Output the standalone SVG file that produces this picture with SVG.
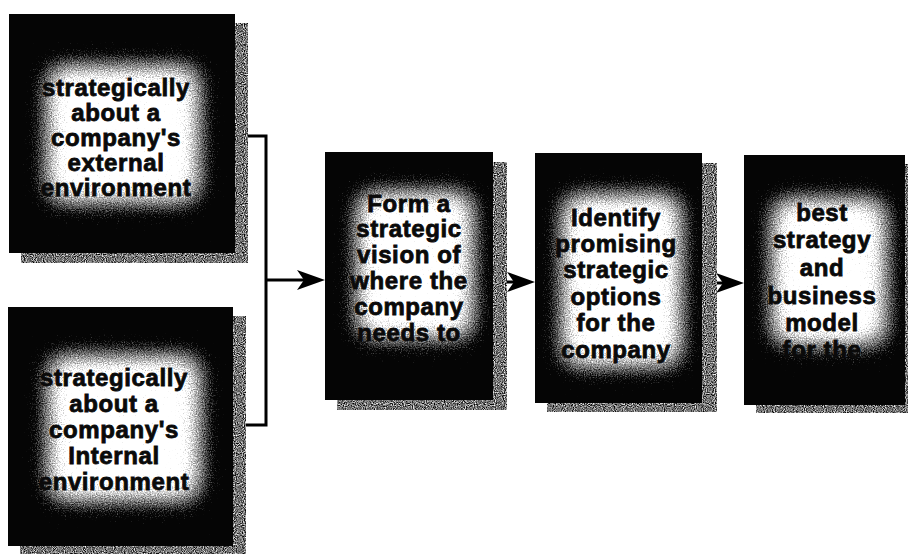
<svg xmlns="http://www.w3.org/2000/svg" width="908" height="554" viewBox="0 0 908 554">
<style>
  .box { fill: #050505; }
  .shadow { fill: #8c8c8c; filter: url(#grain); }
  .glow { fill: #ffffff; filter: url(#glowf); }
  .label { font-family: "Liberation Sans", Arial, sans-serif; font-weight: bold; font-size: 24px; letter-spacing: 0.6px; fill: #0a0a0a; stroke: #0a0a0a; stroke-width: 0.8px; text-anchor: middle; }
  .conn { fill: none; stroke: #000; stroke-width: 3; }
</style>
<defs>
  <filter id="glowf" x="-60%" y="-60%" width="220%" height="220%" color-interpolation-filters="sRGB">
    <feGaussianBlur in="SourceGraphic" stdDeviation="15" result="b"/>
    <feTurbulence type="fractalNoise" baseFrequency="0.85" numOctaves="2" seed="7" result="n"/>
    <feComposite in="b" in2="n" operator="arithmetic" k1="0" k2="1" k3="-0.6" k4="0.3" result="d"/>
    <feComponentTransfer in="d" result="a">
      <feFuncA type="linear" slope="1.6" intercept="-0.35"/>
    </feComponentTransfer>
    <feFlood flood-color="#ffffff" result="w"/>
    <feComposite in="w" in2="a" operator="in"/>
  </filter>
  <filter id="grain" x="0" y="0" width="100%" height="100%" color-interpolation-filters="sRGB">
    <feTurbulence type="fractalNoise" baseFrequency="0.9" numOctaves="1" seed="4" result="n"/>
    <feColorMatrix in="n" type="matrix" values="2.0 0 0 0 -0.55  2.0 0 0 0 -0.55  2.0 0 0 0 -0.55  0 0 0 0 1" result="g"/>
    <feComposite in="g" in2="SourceGraphic" operator="in"/>
  </filter>
  <marker id="arrow" markerUnits="userSpaceOnUse" markerWidth="30" markerHeight="24" refX="18" refY="12" orient="auto">
    <path d="M0,2 L28,12 L0,22 L7,12 Z" fill="#000"/>
  </marker>
</defs>

<g id="connectors">
  <path class="conn" d="M235,136 H266 V425 H233"/>
  <path class="conn" d="M266,280 H315" marker-end="url(#arrow)"/>
  <path class="conn" d="M493,282 H525" marker-end="url(#arrow)"/>
  <path class="conn" d="M702,283 H734" marker-end="url(#arrow)"/>
</g>

<g id="node-external">
  <rect class="shadow" x="21" y="23" width="227" height="240"/>
  <rect class="box" x="9" y="14" width="226" height="239"/>
  <svg x="9" y="14" width="226" height="239">
    <rect class="glow" x="36" y="50" width="156" height="140"/>
  </svg>
  <text class="label" x="116" y="96">strategically</text>
  <text class="label" x="116" y="121">about a</text>
  <text class="label" x="116" y="146">company's</text>
  <text class="label" x="116" y="171">external</text>
  <text class="label" x="116" y="196">environment</text>
</g>

<g id="node-internal">
  <rect class="shadow" x="20" y="316" width="226" height="238"/>
  <rect class="box" x="8" y="307" width="225" height="239"/>
  <svg x="8" y="307" width="225" height="239">
    <rect class="glow" x="38" y="47" width="156" height="148"/>
  </svg>
  <text class="label" x="114" y="386">strategically</text>
  <text class="label" x="114" y="412">about a</text>
  <text class="label" x="114" y="438">company's</text>
  <text class="label" x="114" y="464">Internal</text>
  <text class="label" x="114" y="490">environment</text>
</g>

<g id="node-vision">
  <rect class="shadow" x="337" y="162" width="170" height="248"/>
  <rect class="box" x="325" y="152" width="168" height="248"/>
  <svg x="325" y="152" width="168" height="248">
    <rect class="glow" x="30" y="38" width="120" height="150"/>
  </svg>
  <text class="label" x="409" y="212">Form a</text>
  <text class="label" x="409" y="237">strategic</text>
  <text class="label" x="409" y="263">vision of</text>
  <text class="label" x="409" y="289">where the</text>
  <text class="label" x="409" y="315">company</text>
  <text class="label" x="409" y="341">needs to</text>
</g>

<g id="node-options">
  <rect class="shadow" x="547" y="163" width="170" height="249"/>
  <rect class="box" x="535" y="153" width="167" height="250"/>
  <svg x="535" y="153" width="167" height="250">
    <rect class="glow" x="25" y="40" width="123" height="175"/>
  </svg>
  <text class="label" x="616" y="226">Identify</text>
  <text class="label" x="616" y="252">promising</text>
  <text class="label" x="616" y="278">strategic</text>
  <text class="label" x="616" y="305">options</text>
  <text class="label" x="616" y="331">for the</text>
  <text class="label" x="616" y="358">company</text>
</g>

<g id="node-choose">
  <rect class="shadow" x="756" y="164" width="152" height="249"/>
  <rect class="box" x="744" y="155" width="161" height="250"/>
  <svg x="744" y="155" width="161" height="250">
    <rect class="glow" x="26" y="42" width="118" height="150"/>
  </svg>
  <text class="label" x="822" y="221">best</text>
  <text class="label" x="822" y="248">strategy</text>
  <text class="label" x="822" y="276">and</text>
  <text class="label" x="822" y="304">business</text>
  <text class="label" x="822" y="331">model</text>
  <text class="label" x="822" y="358">for the</text>
</g>
</svg>
